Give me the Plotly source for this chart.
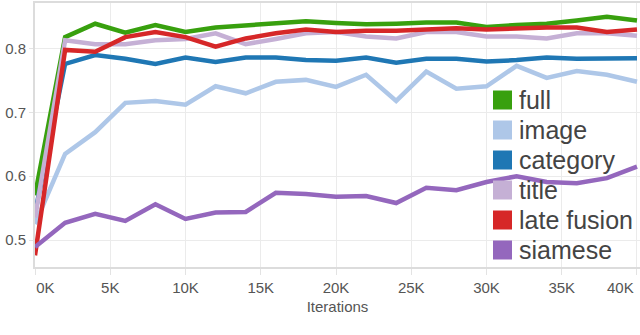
import plotly.graph_objects as go

# iterations, every 2K
iterations = [0, 2000, 4000, 6000, 8000, 10000, 12000, 14000, 16000, 18000, 20000,
              22000, 24000, 26000, 28000, 30000, 32000, 34000, 36000, 38000, 40000]

full = [0.570, 0.818, 0.839, 0.825, 0.837, 0.826, 0.833, 0.836, 0.840, 0.843, 0.840,
        0.838, 0.839, 0.841, 0.841, 0.834, 0.837, 0.839, 0.844, 0.850, 0.844]
image = [0.525, 0.635, 0.669, 0.715, 0.718, 0.712, 0.741, 0.730, 0.748, 0.751, 0.740,
         0.759, 0.718, 0.764, 0.737, 0.741, 0.773, 0.754, 0.765, 0.759, 0.748]
category = [0.542, 0.776, 0.790, 0.784, 0.776, 0.786, 0.779, 0.786, 0.786, 0.782, 0.781,
            0.786, 0.778, 0.784, 0.784, 0.780, 0.782, 0.786, 0.784, 0.785, 0.785]
title = [0.535, 0.813, 0.807, 0.807, 0.813, 0.815, 0.824, 0.807, 0.815, 0.824, 0.826,
         0.819, 0.816, 0.826, 0.826, 0.819, 0.819, 0.816, 0.824, 0.824, 0.820]
late_fusion = [0.476, 0.798, 0.795, 0.818, 0.826, 0.818, 0.803, 0.816, 0.824, 0.830, 0.826,
               0.828, 0.828, 0.830, 0.832, 0.830, 0.832, 0.833, 0.833, 0.826, 0.830]
siamese = [0.489, 0.527, 0.541, 0.530, 0.556, 0.533, 0.543, 0.544, 0.574, 0.572, 0.568,
           0.569, 0.558, 0.582, 0.578, 0.591, 0.600, 0.591, 0.589, 0.597, 0.615]

names = ["full", "image", "category", "title", "late fusion", "siamese"]
series = [full, image, category, title, late_fusion, siamese]
colors = ["#38a00e", "#aec7e8", "#1f77b4", "#c5b0d5", "#d62728", "#9467bd"]

x_ticks = [0, 5000, 10000, 15000, 20000, 25000, 30000, 35000, 40000]
x_labels = ["0K", "5K", "10K", "15K", "20K", "25K", "30K", "35K", "40K"]
y_ticks = [0.5, 0.6, 0.7, 0.8]

# edge labels are nudged inside the chart like in the original:
# first one padded to the right, last one drawn as a right-aligned annotation
nb = "\u00a0"
x_text = list(x_labels)
x_text[0] = nb * 5 + x_text[0]
x_text[-1] = ""

fig = go.Figure()
for name, vals, col in zip(names, series, colors):
    fig.add_trace(go.Scatter(x=iterations, y=vals, name=name, mode="lines",
                             line=dict(color=col, width=4.5), showlegend=False))

fig.add_annotation(x=x_ticks[-1], y=-20 / 264, xref="x", yref="paper", text=x_labels[-1],
                   showarrow=False, xanchor="right", yanchor="middle", xshift=-1,
                   font=dict(size=15, color="#555"))

# legend drawn by hand: big squares + text, tight spacing like the original
for i, (name, col) in enumerate(zip(names, colors)):
    cy = (267 - (100 + 30 * i)) / 264
    fig.add_shape(type="rect", xref="paper", yref="paper",
                  x0=458 / 605, x1=477 / 605, y0=cy - 9.5 / 264, y1=cy + 9.5 / 264,
                  fillcolor=col, line=dict(width=0))
    fig.add_annotation(x=482 / 605, y=cy, xref="paper", yref="paper", text=name,
                       showarrow=False, xanchor="left", yanchor="middle",
                       font=dict(size=25, color="#444"))

fig.update_layout(
    width=640, height=335,
    margin=dict(l=35, r=0, t=3, b=68),
    plot_bgcolor="white", paper_bgcolor="white",
    font=dict(family="Liberation Sans, Arial, sans-serif", size=15, color="#555"),
)
fig.update_xaxes(range=[0, 40200], tickvals=x_ticks, ticktext=x_text,
                 automargin=False,
                 showgrid=True, gridcolor="#ebebeb", gridwidth=1,
                 showline=True, linecolor="#dcdcdc", linewidth=2, mirror=True,
                 ticks="outside", ticklen=6, tickcolor="#e3e3e3",
                 title=dict(text="Iterations", standoff=6, font=dict(size=15, color="#555")),
                 zeroline=False)
fig.update_yaxes(range=[0.4577, 0.8715], tickvals=y_ticks, tickformat=".1f",
                 automargin=False,
                 showgrid=True, gridcolor="#ebebeb", gridwidth=1,
                 showline=True, linecolor="#dcdcdc", linewidth=2,
                 ticks="outside", ticklen=4, tickcolor="#e3e3e3",
                 zeroline=False)

# drop the page's default body margin so the figure sits at the window's corner
fig.write_html("out.html", config={"displayModeBar": False},
               post_script="document.body.style.margin='0';")
